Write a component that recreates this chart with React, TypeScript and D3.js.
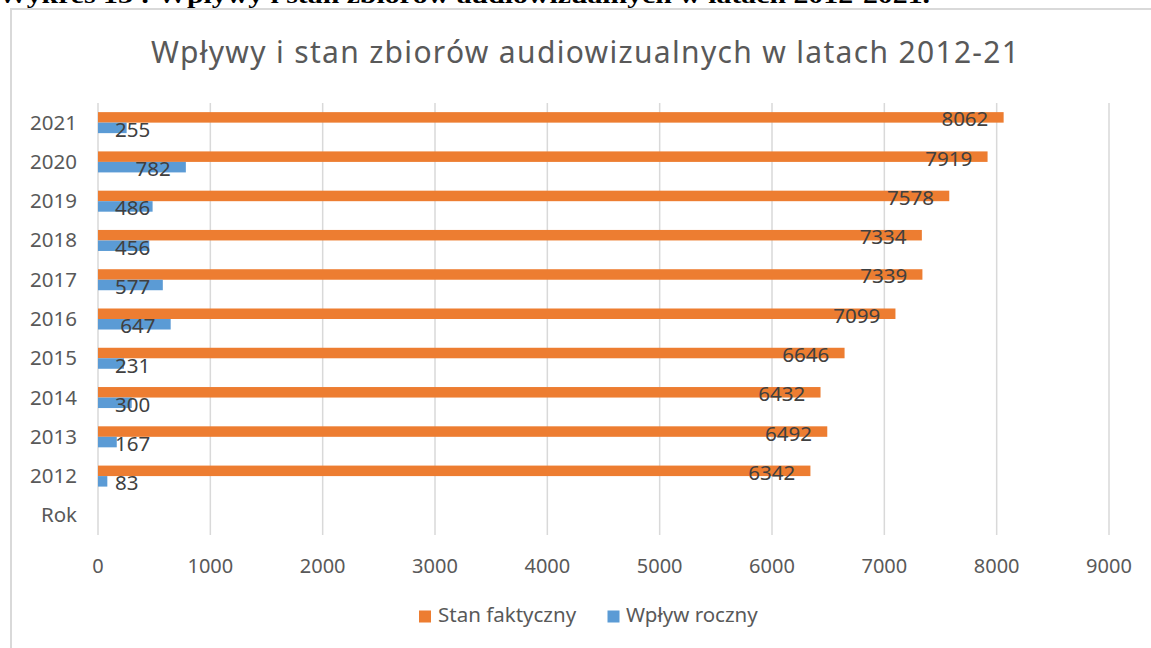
import React from "react"
import * as d3 from "d3"

const WIDTH = 1151
const HEIGHT = 648

const years = ["2021", "2020", "2019", "2018", "2017", "2016", "2015", "2014", "2013", "2012", "Rok"]
const stanFaktyczny = [8062, 7919, 7578, 7334, 7339, 7099, 6646, 6432, 6492, 6342, null]
const wplywRoczny = [255, 782, 486, 456, 577, 647, 231, 300, 167, 83, null]
const seriesNames = ["Stan faktyczny", "Wpływ roczny"]
const seriesColors = ["#ED7D31", "#5B9BD5"]
const xTicks = [0, 1000, 2000, 3000, 4000, 5000, 6000, 7000, 8000, 9000]

const FONT = "'Noto Sans', 'Open Sans', sans-serif"
const TEXT_COLOR = "#595959"
const LABEL_COLOR = "#404040"
const GRID_COLOR = "#d9d9d9"

const plot = { left: 98, right: 1109, top: 103, bottom: 535 }

const App = () => {
	const xScale = d3.scaleLinear().domain([0, 9000]).range([plot.left, plot.right])

	const yScale = d3
		.scaleBand()
		.domain(years)
		.range([plot.top, plot.bottom])
		.paddingInner(0.465)
		.paddingOuter(0.2325)

	const seriesScale = d3
		.scaleBand()
		.domain(seriesNames)
		.range([0, yScale.bandwidth()])

	const digitWidth = 11.8

	const seriesData = [stanFaktyczny, wplywRoczny]

	return (
		<div style={{ position: "fixed", left: 0, top: 0 }}>
			<svg width={WIDTH} height={HEIGHT} style={{ display: "block", background: "#fff" }}>
				{/* document caption, cut by the top edge */}
				<text
					x={-2}
					y={3}
					fontFamily="'Liberation Serif', 'Times New Roman', serif"
					fontWeight="bold"
					fontSize={23}
					textLength={932}
					lengthAdjust="spacingAndGlyphs"
					fill="#000"
				>
					Wykres 13 : Wpływy i stan zbiorów audiowizualnych w latach 2012-2021.
				</text>

				{/* chart frame */}
				<rect x={11} y={9} width={1300} height={800} fill="#fff" stroke={GRID_COLOR} strokeWidth={2} />

				<text
					x={585}
					y={63}
					textAnchor="middle"
					fontFamily={FONT}
					fontSize={30}
					textLength={868}
					lengthAdjust="spacing"
					fill={TEXT_COLOR}
				>
					Wpływy i stan zbiorów audiowizualnych w latach 2012-21
				</text>

				{/* vertical gridlines */}
				{xTicks.map((t) => (
					<line
						key={"g" + t}
						x1={xScale(t)}
						x2={xScale(t)}
						y1={plot.top}
						y2={plot.bottom}
						stroke={GRID_COLOR}
						strokeWidth={1.5}
					/>
				))}

				{/* category labels */}
				{years.map((y) => (
					<text
						key={"c" + y}
						x={77}
						y={(yScale(y) ?? 0) + yScale.bandwidth() / 2 + 7}
						textAnchor="end"
						fontFamily={FONT}
						fontSize={20.5}
						fill={TEXT_COLOR}
					>
						{y}
					</text>
				))}

				{/* bars */}
				{seriesData.map((values, si) =>
					values.map((v, i) => {
						if (v == null) return null
						const yPos = (yScale(years[i]) ?? 0) + (seriesScale(seriesNames[si]) ?? 0)
						return (
							<rect
								key={"b" + si + "-" + i}
								x={xScale(0)}
								y={yPos}
								width={xScale(v) - xScale(0)}
								height={seriesScale.bandwidth()}
								fill={seriesColors[si]}
							/>
						)
					}),
				)}

				{/* data labels */}
				{seriesData.map((values, si) =>
					values.map((v, i) => {
						if (v == null) return null
						const label = String(v)
						const w = label.length * digitWidth
						const barEnd = xScale(v)
						const start = Math.max(barEnd - 15 - w, xScale(0) + 17)
						const center =
							(yScale(years[i]) ?? 0) +
							(seriesScale(seriesNames[si]) ?? 0) +
							seriesScale.bandwidth() / 2
						return (
							<text
								key={"l" + si + "-" + i}
								x={start}
								y={center + 9}
								fontFamily={FONT}
								fontSize={20.5}
								fill={LABEL_COLOR}
							>
								{label}
							</text>
						)
					}),
				)}

				{/* x axis tick labels */}
				{xTicks.map((t) => (
					<text
						key={"t" + t}
						x={xScale(t)}
						y={572.5}
						textAnchor="middle"
						fontFamily={FONT}
						fontSize={20}
						fill={TEXT_COLOR}
					>
						{t}
					</text>
				))}

				{/* legend */}
				<g>
					<rect x={419} y={610.5} width={12} height={12} fill={seriesColors[0]} />
					<text x={438} y={621.5} fontFamily={FONT} fontSize={20.5} fill={TEXT_COLOR}>
						{seriesNames[0]}
					</text>
					<rect x={607.5} y={610.5} width={12} height={12} fill={seriesColors[1]} />
					<text x={626} y={621.5} fontFamily={FONT} fontSize={20.5} fill={TEXT_COLOR}>
						{seriesNames[1]}
					</text>
				</g>
			</svg>
		</div>
	)
}

export default App
